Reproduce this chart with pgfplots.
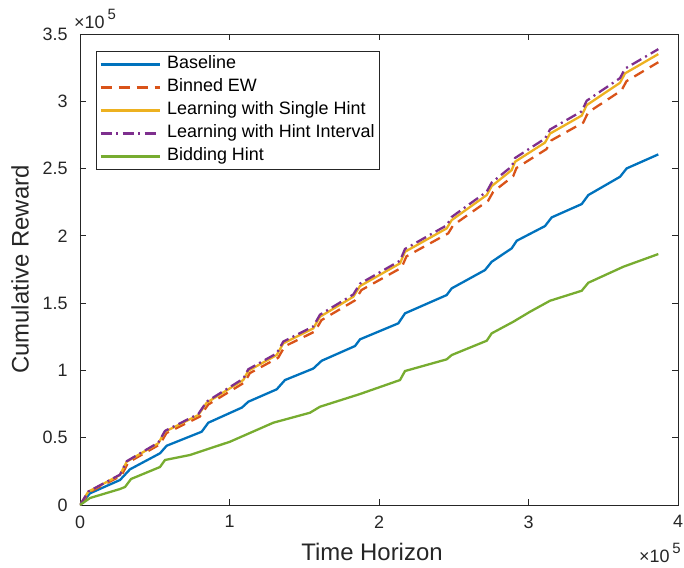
\documentclass[border=0pt]{standalone}
\usepackage{fontspec}
\setmainfont{Liberation Sans}
\usepackage{pgfplots}
\pgfplotsset{compat=1.18}

% MATLAB default line colours
\definecolor{mblue}{rgb}{0,0.447,0.741}
\definecolor{morange}{rgb}{0.85,0.325,0.098}
\definecolor{myellow}{rgb}{0.929,0.694,0.125}
\definecolor{mpurple}{rgb}{0.494,0.184,0.556}
\definecolor{mgreen}{rgb}{0.466,0.674,0.188}
\definecolor{axgray}{rgb}{0.15,0.15,0.15}

\newcommand{\tenpow}[1]{×10\,\raisebox{0.5em}{\fontsize{15}{18}\selectfont #1}}

\begin{document}
\begin{tikzpicture}
\begin{axis}[
    name=ax,
    width=598bp, height=471bp, scale only axis,
    xmin=0, xmax=400000, ymin=0, ymax=350000,
    xtick={0,100000,200000,300000,400000},
    ytick={0,50000,100000,150000,200000,250000,300000,350000},
    scaled x ticks=base 10:-5,
    scaled y ticks=base 10:-5,
    xtick scale label code/.code={\tenpow{#1}},
    ytick scale label code/.code={\tenpow{#1}},
    every y tick scale label/.style={at={(rel axis cs:0,1)}, anchor=south west,
        xshift=3bp, yshift=5bp, inner sep=0pt, text=axgray,
        font=\fontsize{18}{21}\selectfont},
    every x tick scale label/.style={at={(rel axis cs:1,0)}, anchor=north east,
        xshift=3bp, yshift=-31bp, inner sep=0pt, text=axgray,
        font=\fontsize{18}{21}\selectfont},
    /pgf/number format/assume math mode=true,
    tick align=inside, tick pos=both,
    major tick length=6bp,
    axis line style={draw=axgray, line width=0.9bp},
    every tick/.style={draw=axgray, line width=0.9bp},
    tick label style={font=\fontsize{18}{21}\selectfont, text=axgray},
    yticklabel style={xshift=-9bp},
    xticklabel style={yshift=-7bp},
    every axis x label/.style={at={(rel axis cs:0.5,0)}, anchor=center,
        xshift=-7bp, yshift=-47bp,
        font=\fontsize{24}{28}\selectfont, text=axgray},
    every axis y label/.style={at={(rel axis cs:0,0.5)}, xshift=-60bp, rotate=90, anchor=center,
        font=\fontsize{24}{28}\selectfont, text=axgray},
    xlabel={Time Horizon},
    ylabel={Cumulative Reward},
    legend cell align=left,
    legend image code/.code={\draw[#1] (0bp,0bp) -- (59bp,0bp);},
    legend style={at={(rel axis cs:0,1)}, anchor=north west,
        xshift=16bp, yshift=-17bp, draw=axgray, line width=0.8bp,
        font=\fontsize{18}{21}\selectfont,
        inner xsep=3bp, inner ysep=3bp, row sep=3bp, column sep=5bp,
        nodes={text height=13bp, text depth=4bp, inner sep=1.5bp}},
    every axis plot/.append style={line width=2.3bp},
]
\addplot[mblue] coordinates {
(0,0) (6689,8692) (26756,18573) (33445,26522) (53512,38408) (57994,44054)
(81405,54455) (85820,61141) (108362,72433) (112576,76742) (131573,85954)
(137125,92863) (156054,101406) (161673,107200) (183948,118121) (187292,123099)
(212911,134985) (217393,142414) (245286,156009) (248630,160986) (270905,174582)
(275386,180748) (288764,190702) (292108,196348) (311039,207269) (315520,213732)
(335587,223613) (340002,230299) (361206,243894) (365688,250134) (386825,260535)
};
\addlegendentry{Baseline}
\addplot[morange, dash pattern=on 11bp off 7bp] coordinates {
(0,0) (6552,9703) (27756,21886) (32238,31589) (53375,45012) (57857,53475)
(80131,65657) (85750,74631) (110231,91191) (113576,97975) (132573,109429)
(136987,117965) (157054,128907) (161536,137370) (183810,151961) (188292,159766)
(215048,176327) (218393,184790) (246286,201860) (249630,207916) (273042,226154)
(276386,232719) (289764,244392) (291972,250447) (312039,264454) (315383,271019)
(336587,284152) (339932,291811) (362206,308080) (365551,314937) (386825,329017)
};
\addlegendentry{Binned EW}
\addplot[myellow] coordinates {
(0,0) (5552,9881) (26756,22287) (31238,32168) (52375,45837) (56857,54455)
(79131,66861) (84750,75999) (109231,92863) (112576,99771) (131573,111435)
(135987,120127) (156054,131270) (160536,139888) (182810,154746) (187292,162695)
(214048,179559) (217393,188177) (245286,205560) (248630,211727) (272042,230299)
(275386,236985) (288764,248872) (290972,255038) (311039,269301) (314383,275987)
(335587,289360) (338932,297160) (361206,313727) (364551,320710) (386825,335048)
};
\addlegendentry{Learning with Single Hint}
\addplot[mpurple, dash pattern=on 11bp off 4.5bp on 2bp off 4.5bp] coordinates {
(0,0) (5552,9990) (26756,22532) (31238,32522) (52375,46341) (56857,55054)
(79131,67596) (84750,76835) (109231,93885) (112576,100868) (131573,112661)
(135987,121448) (156054,132714) (160536,141427) (182810,156448) (187292,164485)
(214048,181534) (217393,190247) (245286,207821) (248630,214056) (272042,232832)
(275386,239592) (288764,251610) (290972,257843) (311039,272263) (314383,279023)
(335587,292543) (338932,300429) (361206,317178) (364551,324238) (386825,338734)
};
\addlegendentry{Learning with Hint Interval}
\addplot[mgreen] coordinates {
(0,0) (6689,5200) (26756,11886) (30101,13372) (34114,19315) (53512,28230)
(56857,33431) (73579,37145) (100335,47026) (129300,61141) (153847,68570)
(160536,73027) (187292,82462) (214048,92863) (217393,99549) (245286,108241)
(248630,111435) (272042,122058) (275386,127556) (289834,136174) (301005,143603)
(314383,151774) (335587,159203) (340002,165147) (363413,177033) (386825,186468)
};
\addlegendentry{Bidding Hint}
\end{axis}
\pgfresetboundingbox
\path[use as bounding box] ([xshift=-80bp,yshift=-63bp]ax.south west)
    rectangle ([xshift=6bp,yshift=34bp]ax.north east);
\end{tikzpicture}
\end{document}
